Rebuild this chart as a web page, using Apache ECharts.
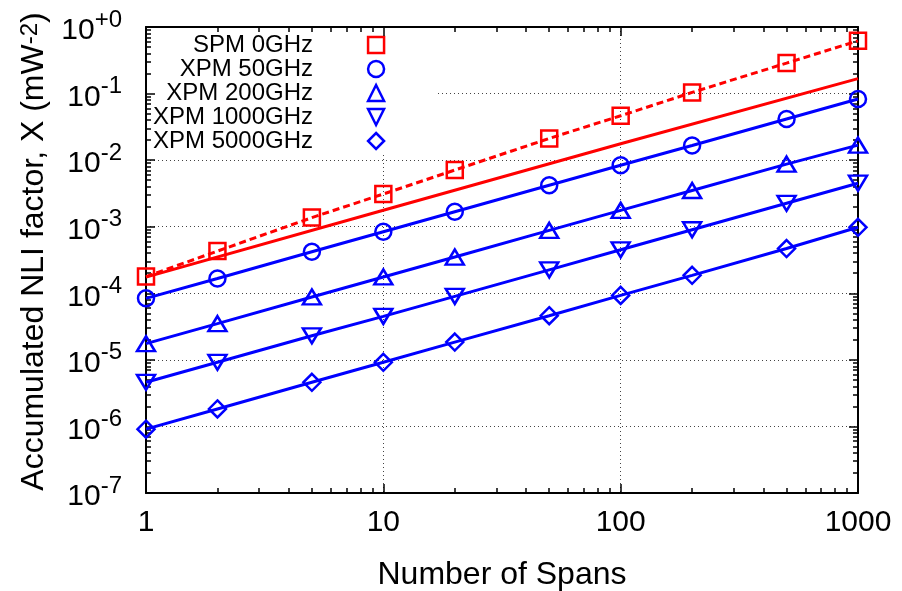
<!DOCTYPE html>
<html>
<head>
<meta charset="utf-8">
<script src="https://cdn.jsdelivr.net/npm/echarts@6/dist/echarts.min.js"></script>
<style>
  html, body { margin: 0; padding: 0; background: #fff; }
  #chart { width: 902px; height: 591px; }
</style>
</head>
<body>
<div id="chart"></div>
<script>
// values
var spans = [1, 2, 5, 10, 20, 50, 100, 200, 500, 1000];
var spm0 = [1.78e-4, 4.3e-4, 1.37e-3, 3.1e-3, 7.1e-3, 2.12e-2, 4.64e-2, 1.04e-1, 2.87e-1, 6.2e-1];
var xpm50 = [8.4e-5, 1.67e-4, 4.2e-4, 8.4e-4, 1.68e-3, 4.2e-3, 8.4e-3, 1.66e-2, 4.15e-2, 8.3e-2];
var xpm200 = [1.75e-5, 3.5e-5, 8.8e-5, 1.76e-4, 3.5e-4, 8.8e-4, 1.76e-3, 3.5e-3, 8.7e-3, 1.68e-2];
var xpm1000 = [4.6e-6, 9.2e-6, 2.3e-5, 4.5e-5, 9.0e-5, 2.25e-4, 4.5e-4, 9.0e-4, 2.25e-3, 4.5e-3];
var xpm5000 = [9.1e-7, 1.83e-6, 4.6e-6, 9.2e-6, 1.85e-5, 4.6e-5, 9.3e-5, 1.86e-4, 4.7e-4, 9.8e-4];
// red solid reference line (no markers, not in key)
var spmLinSpans = [1, 10, 100, 1000];
var spmLin = [1.75e-4, 1.77e-3, 1.76e-2, 1.68e-1];

var legendNames = ['SPM 0GHz', 'XPM 50GHz', 'XPM 200GHz', 'XPM 1000GHz', 'XPM 5000GHz'];
var xTickLabels = ['1', '10', '100', '1000'];
var yTickExp = ['-7', '-6', '-5', '-4', '-3', '-2', '-1', '+0'];

var FONT = 'Liberation Sans, Arial, Helvetica, sans-serif';
var RED = '#ff0000', BLUE = '#0000ff';

function pairs(xs, ys) {
    return xs.map(function (x, i) { return [x, ys[i]]; });
}

// minor tick positions (2..9 within every decade)
var xMinor = [], yMinor = [];
[1, 10, 100].forEach(function (d) {
    for (var k = 2; k <= 9; k++) xMinor.push(k * d);
});
for (var e = -7; e <= -1; e++) {
    for (var k = 2; k <= 9; k++) yMinor.push(+(k * Math.pow(10, e)).toPrecision(3));
}

var dom = document.getElementById('chart');
var myChart = echarts.init(dom, null, {renderer: 'canvas'});

function tickAxis(kind, pos, minor, withLine) {
    var a = {
        type: 'log',
        logBase: 10,
        position: pos,
        min: kind === 'x' ? 1 : 1e-7,
        max: kind === 'x' ? 1000 : 1,
        splitNumber: kind === 'x' ? 3 : 7,
        z: 6,
        axisLine: {show: withLine, onZero: false, lineStyle: {color: '#000', width: 2}},
        axisTick: {show: true, inside: true, length: minor ? 5 : 9, lineStyle: {color: '#000', width: 1.5}},
        axisLabel: {show: false},
        splitLine: {show: false},
        minorTick: {show: false}
    };
    if (minor) a.axisTick.customValues = kind === 'x' ? xMinor : yMinor;
    return a;
}

function gridAxis(kind) {
    return {
        type: 'log',
        logBase: 10,
        min: kind === 'x' ? 1 : 1e-7,
        max: kind === 'x' ? 1000 : 1,
        splitNumber: kind === 'x' ? 3 : 7,
        z: 0,
        axisLine: {show: false},
        axisTick: {show: false},
        axisLabel: {show: false},
        splitLine: {show: true, lineStyle: {color: '#444', width: 1, type: [1, 3]}}
    };
}

var xMain = tickAxis('x', 'bottom', false, true);
xMain.axisLabel = {
    show: true, margin: 15, color: '#000', fontSize: 30, fontFamily: FONT,
    formatter: function (v) { return xTickLabels[Math.round(Math.log10(v))]; }
};
xMain.name = 'Number of Spans';
xMain.nameLocation = 'middle';
xMain.nameGap = 66;
xMain.nameTextStyle = {color: '#000', fontSize: 32, fontFamily: FONT};

var yMain = tickAxis('y', 'left', false, true);
yMain.axisLabel = {
    show: true, margin: 24, color: '#000', fontFamily: FONT,
    formatter: function (v) {
        return '{b|10}{s|' + yTickExp[Math.round(Math.log10(v)) + 7] + '}';
    },
    rich: {
        b: {fontSize: 30, fontFamily: FONT, color: '#000', lineHeight: 38, verticalAlign: 'bottom'},
        s: {fontSize: 24, fontFamily: FONT, color: '#000', lineHeight: 24, verticalAlign: 'top'}
    }
};
yMain.name = 'Accumulated NLI factor, X (mW{s|-2})';
yMain.nameLocation = 'middle';
yMain.nameGap = 89;
yMain.nameTextStyle = {
    color: '#000', fontSize: 32, fontFamily: FONT, padding: [0, 0, 0, 17],
    rich: {
        s: {fontSize: 24, fontFamily: FONT, color: '#000', lineHeight: 24, verticalAlign: 'top'}
    }
};

function lineSeries(name, ys, color, symbol, size, rotate, dashed) {
    return {
        name: name,
        type: 'line',
        xAxisIndex: 0,
        yAxisIndex: 0,
        z: 7,
        data: pairs(spans, ys),
        symbol: symbol,
        symbolSize: size,
        symbolRotate: rotate || 0,
        showAllSymbol: true,
        itemStyle: {color: 'rgba(0,0,0,0)', borderColor: color, borderWidth: 2.5},
        lineStyle: {color: color, width: 3, type: dashed ? [7, 4] : 'solid'},
        emphasis: {disabled: true}
    };
}

option = {
    animation: false,
    backgroundColor: '#fff',
    grid: {left: 146, right: 44, top: 27, bottom: 98, outerBoundsMode: 'none', containLabel: false},
    legend: {
        data: legendNames,
        orient: 'vertical',
        align: 'right',
        left: 148,
        top: 28,
        padding: [5, 3, 2, 5],
        itemWidth: 116,
        itemHeight: 20,
        itemGap: 0,
        backgroundColor: '#fff',
        selectedMode: false,
        z: 4,
        textStyle: {color: '#000', fontSize: 24, fontFamily: FONT},
        itemStyle: {color: 'rgba(0,0,0,0)', borderWidth: 2.5},
        lineStyle: {width: 0, color: 'rgba(0,0,0,0)'}
    },
    xAxis: [xMain, tickAxis('x', 'bottom', true, false), tickAxis('x', 'top', false, true), tickAxis('x', 'top', true, false), gridAxis('x')],
    yAxis: [yMain, tickAxis('y', 'left', true, false), tickAxis('y', 'right', false, true), tickAxis('y', 'right', true, false), gridAxis('y')],
    series: [
        {
            name: 'spm-linear',
            type: 'line',
            z: 7,
            data: pairs(spmLinSpans, spmLin),
            symbol: 'none',
            lineStyle: {color: RED, width: 3},
            emphasis: {disabled: true}
        },
        lineSeries(legendNames[0], spm0, RED, 'rect', 16, 0, true),
        lineSeries(legendNames[1], xpm50, BLUE, 'circle', 16),
        lineSeries(legendNames[2], xpm200, BLUE, 'triangle', [18, 15]),
        lineSeries(legendNames[3], xpm1000, BLUE, 'triangle', [18, 15], 180),
        lineSeries(legendNames[4], xpm5000, BLUE, 'diamond', 17)
    ]
};

if (option && typeof option === 'object') {
    myChart.setOption(option, true);
}
</script>
</body>
</html>
